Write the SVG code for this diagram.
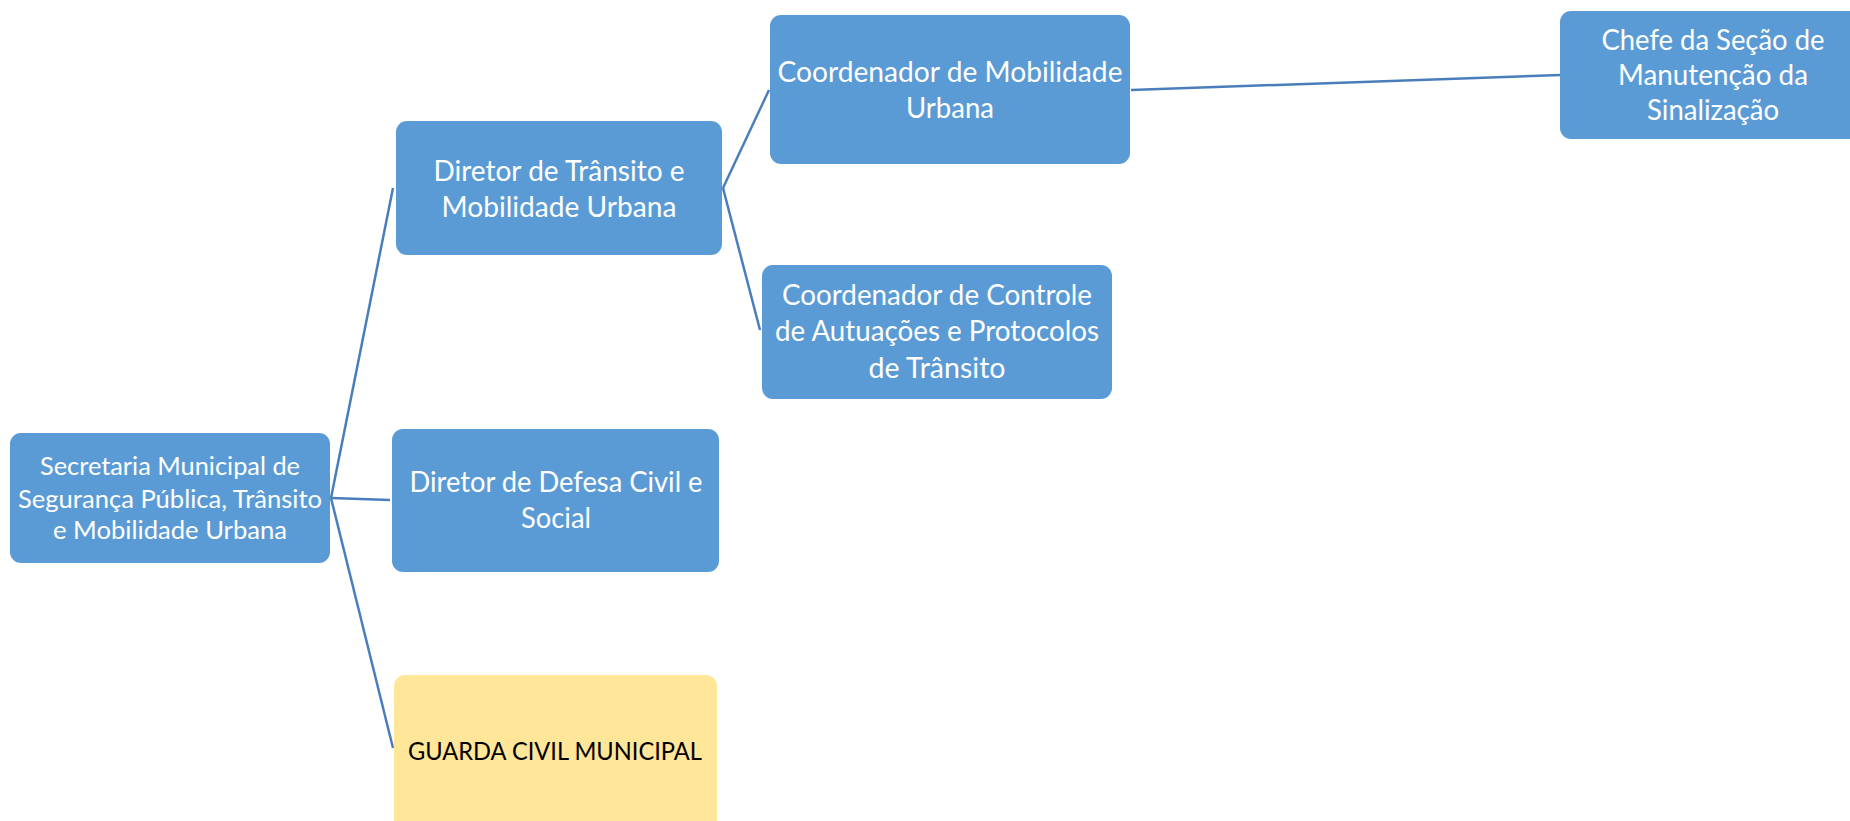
<svg xmlns="http://www.w3.org/2000/svg" width="1850" height="821" viewBox="0 0 1850 821">
<style>
.box{fill:#5B9BD5;}
.yel{fill:#FFE699;}
.t{font-family:Lato,"Open Sans","Liberation Sans",sans-serif;fill:#FFFFFF;text-anchor:middle;font-size:28px;}
.s{font-size:24.5px;}
.k{fill:#000000;}
.c{stroke:#4A7EBB;stroke-width:2.5;fill:none;}
</style>
<rect width="1850" height="821" fill="#FFFFFF"/>
<g id="connectors">
<line class="c" x1="331" y1="498" x2="393" y2="188"/>
<line class="c" x1="331" y1="498" x2="390" y2="500"/>
<line class="c" x1="331" y1="498" x2="393" y2="748"/>
<line class="c" x1="723" y1="188" x2="769" y2="90"/>
<line class="c" x1="723" y1="188" x2="760" y2="330"/>
<line class="c" x1="1131" y1="90" x2="1560" y2="75"/>
</g>
<g id="secretaria">
<rect class="box" x="10" y="433" width="320" height="130" rx="11"/>
<text class="t s" x="170" y="475" textLength="260" lengthAdjust="spacingAndGlyphs">Secretaria Municipal de</text>
<text class="t s" x="170" y="508" textLength="304" lengthAdjust="spacingAndGlyphs">Segurança Pública, Trânsito</text>
<text class="t s" x="170" y="539" textLength="234" lengthAdjust="spacingAndGlyphs">e Mobilidade Urbana</text>
</g>
<g id="diretor-transito">
<rect class="box" x="396" y="121" width="326" height="134" rx="11"/>
<text class="t" x="559" y="181" textLength="251" lengthAdjust="spacingAndGlyphs">Diretor de Trânsito e</text>
<text class="t" x="559" y="217" textLength="235" lengthAdjust="spacingAndGlyphs">Mobilidade Urbana</text>
</g>
<g id="diretor-defesa">
<rect class="box" x="392" y="429" width="327" height="143" rx="11"/>
<text class="t" x="556" y="492" textLength="293" lengthAdjust="spacingAndGlyphs">Diretor de Defesa Civil e</text>
<text class="t" x="556" y="528" textLength="70" lengthAdjust="spacingAndGlyphs">Social</text>
</g>
<g id="guarda">
<rect class="yel" x="394" y="675" width="323" height="160" rx="11"/>
<text class="t s k" x="555" y="760" textLength="294" lengthAdjust="spacingAndGlyphs">GUARDA CIVIL MUNICIPAL</text>
</g>
<g id="coord-mobilidade">
<rect class="box" x="770" y="15" width="360" height="149" rx="11"/>
<text class="t" x="950" y="82" textLength="345" lengthAdjust="spacingAndGlyphs">Coordenador de Mobilidade</text>
<text class="t" x="950" y="118" textLength="88" lengthAdjust="spacingAndGlyphs">Urbana</text>
</g>
<g id="coord-controle">
<rect class="box" x="762" y="265" width="350" height="134" rx="11"/>
<text class="t" x="937" y="305" textLength="310" lengthAdjust="spacingAndGlyphs">Coordenador de Controle</text>
<text class="t" x="937" y="341" textLength="324" lengthAdjust="spacingAndGlyphs">de Autuações e Protocolos</text>
<text class="t" x="937" y="378" textLength="137" lengthAdjust="spacingAndGlyphs">de Trânsito</text>
</g>
<g id="chefe">
<rect class="box" x="1560" y="11" width="310" height="128" rx="11"/>
<text class="t" x="1713" y="50" textLength="223" lengthAdjust="spacingAndGlyphs">Chefe da Seção de</text>
<text class="t" x="1713" y="85" textLength="190" lengthAdjust="spacingAndGlyphs">Manutenção da</text>
<text class="t" x="1713" y="120" textLength="132" lengthAdjust="spacingAndGlyphs">Sinalização</text>
</g>
</svg>
